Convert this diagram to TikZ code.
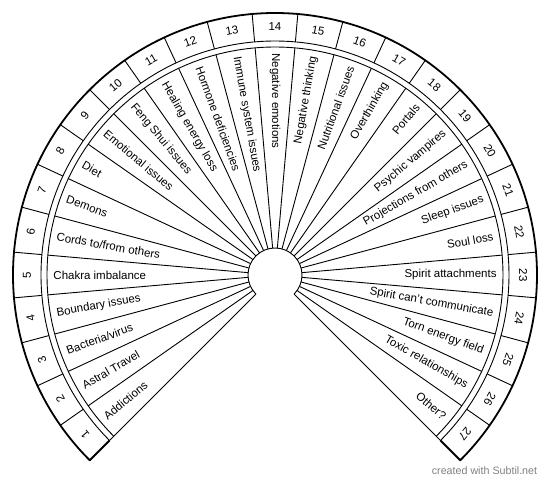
\documentclass[tikz,border=0pt]{standalone}
\usepackage{fontspec}
\setmainfont{Liberation Sans}

\begin{document}
\begin{tikzpicture}[x=1pt,y=1pt,line width=0.9pt,
  leftitem/.style={anchor=west,inner sep=0pt,font=\fontsize{11.5}{13}\selectfont},
  rightitem/.style={anchor=east,inner sep=0pt,font=\fontsize{11.5}{13}\selectfont},
  numtxt/.style={inner sep=0pt,font=\fontsize{11.5}{13}\selectfont}]
\useasboundingbox (-275,-208) rectangle (275,275);
% ---- hub and spokes ----
\draw (225:27) arc[start angle=225,end angle=-45,radius=27];
\foreach \k in {1,...,26}{
  \pgfmathsetmacro\a{225-10*\k}
  \draw (\a:27) -- (\a:228);
  \draw (\a:234) -- (\a:262);
}
% ---- double ring and outer rim ----
\draw (225:228) arc[start angle=225,end angle=-45,radius=228];
\draw (225:234) arc[start angle=225,end angle=-45,radius=234];
\draw (225:27) -- (225:234);
\draw (-45:27) -- (-45:234);
\draw[line width=1.8pt,line join=round] (225:234) -- (225:262)
  arc[start angle=225,end angle=-45,radius=262] -- (-45:234);
% ---- numbers and labels ----
\foreach \t [count=\i] in {Addictions,Astral Travel,Bacteria/virus,Boundary issues,
  Chakra imbalance,Cords to/from others,Demons,Diet,Emotional issues,
  Feng Shui issues,Healing energy loss,Hormone deficiencies,Immune system issues,
  Negative emotions,Negative thinking,Nutritional issues,Overthinking,Portals,
  Psychic vampires,Projections from others,Sleep issues,Soul loss,
  Spirit attachments,Spirit can’t communicate,Torn energy field,
  Toxic relationships,Other?}{
  \pgfmathsetmacro\a{230-10*\i}
  \node[numtxt,rotate=\a-90] (num\i) at (\a:248) {\i};
  \ifnum\i<15
    \node[leftitem,rotate=\a+180] (item\i) at (\a:222) {\t};
  \else
    \node[rightitem,rotate=\a] (item\i) at (\a:222) {\t};
  \fi
}
\node[text=gray,font=\fontsize{10.7}{12}\selectfont] (credit) at (209.5,-196) {created with Subtil.net};
\end{tikzpicture}
\end{document}
